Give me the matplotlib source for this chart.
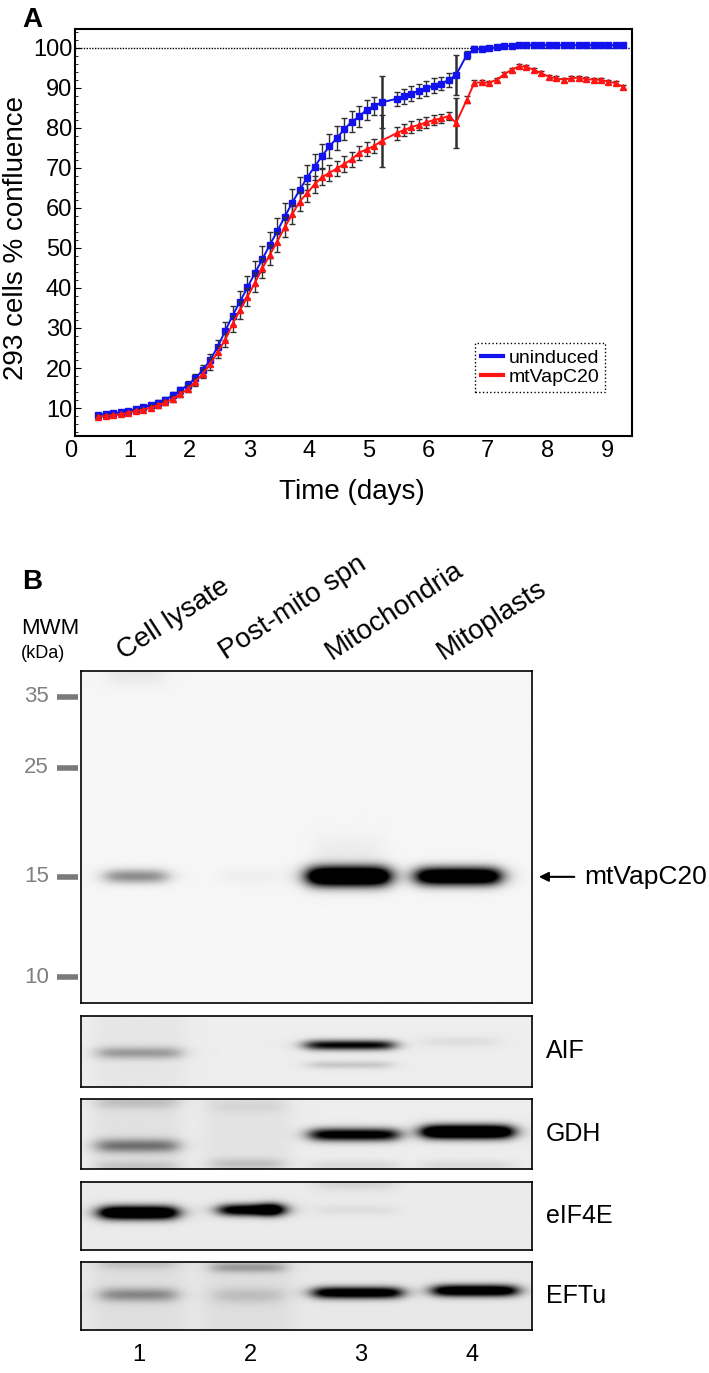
import numpy as np
import matplotlib
matplotlib.use("Agg")
import matplotlib.pyplot as plt
from matplotlib.lines import Line2D
from matplotlib.ticker import MultipleLocator
from matplotlib.transforms import offset_copy

plt.rcParams['font.family'] = ['Liberation Sans', 'DejaVu Sans']

#%% Panel A data - confluence over time
t_days = [0.47, 0.595, 0.72, 0.845, 0.97, 1.095, 1.22, 1.345, 1.47, 1.595,
          1.72, 1.845, 1.97, 2.095, 2.22, 2.345, 2.47, 2.595, 2.72, 2.845,
          2.97, 3.095, 3.22, 3.345, 3.47, 3.595, 3.72, 3.845, 3.97, 4.095,
          4.22, 4.345, 4.47, 4.595, 4.72, 4.845, 4.97, 5.095, 5.22,
          5.47, 5.595, 5.72, 5.845, 5.97, 6.095, 6.22, 6.345, 6.47,
          6.65, 6.775, 6.9, 7.025, 7.15, 7.275, 7.4, 7.525, 7.65, 7.775,
          7.9, 8.025, 8.15, 8.275, 8.4, 8.525, 8.65, 8.775, 8.9, 9.025,
          9.15, 9.275]

uninduced = [8.2, 8.5, 8.7, 8.9, 9.3, 9.7, 10.2, 10.7, 11.3, 12.1,
             13.2, 14.4, 15.8, 17.4, 19.5, 22.0, 25.3, 29.2, 33.1, 36.6,
             40.2, 43.7, 47.2, 50.8, 54.2, 57.8, 61.3, 64.5, 67.6, 70.3,
             73.0, 75.4, 77.5, 79.7, 81.6, 82.9, 84.6, 85.5, 86.4,
             87.3, 87.9, 88.6, 89.3, 89.9, 90.6, 91.1, 92.0, 93.3,
             98.3, 99.7, 99.8, 99.9, 100.2, 100.4, 100.6, 100.7, 100.7, 100.7,
             100.7, 100.7, 100.7, 100.7, 100.7, 100.7, 100.7, 100.7, 100.7, 100.7,
             100.7, 100.7]
uninduced_err = [0.4, 0.4, 0.4, 0.5, 0.5, 0.5, 0.6, 0.6, 0.7, 0.7,
                 0.8, 0.9, 1.0, 1.1, 1.3, 1.5, 1.8, 2.2, 2.4, 2.6,
                 2.8, 3.0, 3.2, 3.3, 3.3, 3.4, 3.4, 3.3, 3.2, 3.2,
                 3.1, 3.0, 2.9, 2.8, 2.7, 2.6, 2.5, 2.3, 6.5,
                 1.8, 1.8, 1.8, 1.8, 1.8, 1.8, 1.7, 1.7, 5.0,
                 1.0, 0.8, 0.6, 0.5, 0.4, 0.3, 0.3, 0.3, 0.3, 0.3,
                 0.3, 0.3, 0.3, 0.3, 0.3, 0.3, 0.3, 0.3, 0.3, 0.3,
                 0.3, 0.3]

mtvapc20 = [7.8, 8.0, 8.2, 8.4, 8.8, 9.2, 9.6, 10.1, 10.7, 11.4,
            12.3, 13.5, 14.8, 16.5, 18.6, 21.0, 24.0, 27.0, 31.0, 34.5,
            37.8, 41.3, 44.9, 48.3, 51.6, 55.2, 58.4, 61.6, 63.7, 65.9,
            67.7, 68.8, 69.9, 71.0, 72.2, 73.8, 74.7, 75.5, 76.8,
            78.7, 79.5, 80.2, 80.8, 81.4, 82.0, 82.4, 83.0, 81.3,
            87.1, 91.3, 91.4, 91.3, 92.1, 93.4, 94.6, 95.4, 95.3, 94.5,
            93.7, 92.8, 92.4, 92.1, 92.4, 92.6, 92.2, 92.1, 92.0, 91.6,
            91.2, 90.2]
mtvapc20_err = [0.4, 0.4, 0.4, 0.4, 0.5, 0.5, 0.5, 0.6, 0.6, 0.7,
                0.7, 0.8, 0.9, 1.0, 1.2, 1.4, 1.6, 1.8, 2.0, 2.2,
                2.3, 2.4, 2.5, 2.5, 2.5, 2.5, 2.4, 2.3, 2.2, 2.1,
                2.0, 2.0, 1.9, 1.9, 1.9, 1.8, 1.8, 1.8, 6.5,
                1.6, 1.5, 1.5, 1.4, 1.3, 1.2, 1.2, 1.1, 6.2,
                0.9, 0.6, 0.5, 0.5, 0.5, 0.5, 0.5, 0.5, 0.5, 0.5,
                0.5, 0.5, 0.5, 0.5, 0.5, 0.5, 0.5, 0.5, 0.5, 0.5,
                0.5, 0.5]

x_ticks = [1, 2, 3, 4, 5, 6, 7, 8, 9]
y_ticks = [10, 20, 30, 40, 50, 60, 70, 80, 90, 100]

#%% Panel B data - western blots
lanes = [1, 2, 3, 4]
lane_titles = ["Cell lysate", "Post-mito spn", "Mitochondria", "Mitoplasts"]
title_x = [0.86, 1.78, 2.74, 3.74]
mw_kda = ["35", "25", "15", "10"]
mw_pos = [0.078, 0.292, 0.620, 0.922]   # fraction down the gel

# bands: (lane x, position down the strip, darkness, half width, thickness)
vapc20_bands = [(0.97, 0.62, 0.42, 0.27, 0.015), (2.0, 0.62, 0.03, 0.25, 0.018),
                (2.89, 0.62, 1.7, 0.36, 0.021), (3.88, 0.62, 1.5, 0.37, 0.019),
                (0.97, 0.0, 0.07, 0.25, 0.03), (2.89, 0.55, 0.04, 0.3, 0.04)]
aif_bands = [(1.0, 0.52, 0.3, 0.37, 0.06), (2.9, 0.41, 0.95, 0.39, 0.05),
             (2.9, 0.69, 0.15, 0.37, 0.04), (3.9, 0.36, 0.06, 0.33, 0.05),
             (1.0, 0.5, 0.03, 0.4, 1.0)]
gdh_bands = [(0.98, 0.67, 0.45, 0.36, 0.07), (0.98, 0.04, 0.14, 0.36, 0.07),
             (0.98, 0.97, 0.12, 0.36, 0.06), (1.97, 0.93, 0.14, 0.32, 0.06),
             (1.97, 0.1, 0.06, 0.32, 0.07), (2.94, 0.51, 1.1, 0.39, 0.065),
             (3.96, 0.47, 1.6, 0.4, 0.07), (2.94, 0.96, 0.08, 0.39, 0.06),
             (3.96, 0.96, 0.08, 0.4, 0.06), (0.98, 0.5, 0.05, 0.4, 1.0),
             (1.97, 0.5, 0.04, 0.4, 1.0)]
eif4e_bands = [(0.99, 0.46, 1.5, 0.34, 0.07), (2.0, 0.42, 1.2, 0.27, 0.06),
               (2.2, 0.41, 0.6, 0.1, 0.07), (2.95, 0.42, 0.05, 0.35, 0.05),
               (2.95, 0.0, 0.1, 0.35, 0.09)]
eftu_bands = [(0.99, 0.49, 0.35, 0.33, 0.07), (0.99, 0.04, 0.12, 0.33, 0.06),
              (1.98, 0.5, 0.13, 0.3, 0.08), (1.98, 0.09, 0.28, 0.32, 0.055),
              (2.97, 0.46, 1.2, 0.39, 0.06), (4.03, 0.43, 1.3, 0.37, 0.06),
              (0.99, 0.5, 0.04, 0.4, 1.0), (1.98, 0.5, 0.04, 0.4, 1.0)]

strip_names = ["AIF", "GDH", "eIF4E", "EFTu"]
strip_bands = [aif_bands, gdh_bands, eif4e_bands, eftu_bands]
strip_bg = [0.07, 0.07, 0.08, 0.09]

#%% layout helpers (reference pixels -> figure fraction)
W, H = 709, 1373
def fx(px):
    return px / W
def fy(py):
    return 1 - py / H

fig = plt.figure(figsize=(W / 100, H / 100), dpi=100, facecolor="white")

blue = "#1212ee"
red = "#ff1414"

ax = fig.add_axes([fx(75), fy(436), (632 - 75) / W, (436 - 29) / H])
ax.axhline(100, color="black", lw=1, ls=(0, (1, 1)), zorder=1)
eb_u = ax.errorbar(t_days, uninduced, yerr=uninduced_err, color=blue, lw=1.4,
                   marker="s", ms=4.5, ecolor="#303030", elinewidth=1,
                   capsize=2.5, capthick=1, zorder=3)
eb_m = ax.errorbar(t_days, mtvapc20, yerr=mtvapc20_err, color=red, lw=1.4,
                   marker="^", ms=4.5, ecolor="#303030", elinewidth=1,
                   capsize=2.5, capthick=1, zorder=4)
# the two very long bars look heavier in the original
for eb, err in ((eb_u, uninduced_err), (eb_m, mtvapc20_err)):
    eb[2][0].set_linewidth([1.8 if e > 4 else 1.0 for e in err])

ax.set_xlim(0.077, 9.42)
ax.set_ylim(3.0, 104.75)
ax.set_xticks(x_ticks)
ax.set_yticks(y_ticks)
ax.yaxis.set_minor_locator(MultipleLocator(2))
ax.tick_params(axis="x", length=0, pad=3, labelsize=17)
ax.tick_params(axis="y", which="major", direction="in", length=4, pad=2, labelsize=17)
ax.tick_params(axis="y", which="minor", direction="in", length=2)
for sp in ax.spines.values():
    sp.set_linewidth(1.5)
# the "0" sits left of the frame
trans0 = offset_copy(ax.get_xaxis_transform(), fig=fig, y=-3, units="points")
ax.text(0, 0, "0", transform=trans0, ha="center", va="top", fontsize=17, clip_on=False)

handles = [Line2D([], [], color=blue, lw=3), Line2D([], [], color=red, lw=3)]
leg = ax.legend(handles, ["uninduced", "mtVapC20"], loc="lower right",
                bbox_to_anchor=(0.9515, 0.108), borderaxespad=0, fontsize=14,
                handlelength=1.1, handletextpad=0.3, borderpad=0.3,
                labelspacing=0.1, fancybox=False, framealpha=1)
leg.get_frame().set_edgecolor("black")
leg.get_frame().set_linestyle(":")
leg.get_frame().set_linewidth(1)

fig.text(fx(16), fy(238), "293 cells % confluence", rotation=90, ha="center",
         va="center", fontsize=20)
fig.text(fx(352), fy(492), "Time (days)", ha="center", va="center", fontsize=20)
fig.text(fx(32), fy(20), "A", ha="center", va="center", fontsize=20, fontweight="bold")
fig.text(fx(32), fy(582), "B", ha="center", va="center", fontsize=20, fontweight="bold")

#%% blots
x_lo, x_hi = 0.476, 4.54

def blot_image(bands, bg, nx=450, ny=160):
    xs = np.linspace(x_lo, x_hi, nx)
    ys = np.linspace(0, 1, ny)
    X, Y = np.meshgrid(xs, ys)
    dark = np.full(X.shape, bg)
    for x0, y0, a, hw, sig in bands:
        across = 1 / (1 + np.exp((np.abs(X - x0) - hw) / 0.05))
        down = np.exp(-0.5 * ((Y - y0) / sig) ** 2)
        dark = dark + a * across * down
    return np.clip(dark, 0, 1)

def blot_axes(top, bottom):
    b = fig.add_axes([fx(81), fy(bottom), (532 - 81) / W, (bottom - top) / H])
    b.set_xlim(x_lo, x_hi)
    b.set_ylim(1, 0)
    b.set_xticks([])
    b.set_yticks([])
    for sp in b.spines.values():
        sp.set_linewidth(1.2)
    return b

gel = blot_axes(671, 1003)
gel.imshow(blot_image(vapc20_bands, 0.035, ny=400), cmap="gray_r", vmin=0, vmax=1,
           extent=(x_lo, x_hi, 1, 0), aspect="auto", interpolation="bilinear")
ytr = gel.get_yaxis_transform()
for lab, pos in zip(mw_kda, mw_pos):
    gel.plot([-0.053, -0.007], [pos, pos], transform=ytr, color="#7a7a7a",
             lw=4, solid_capstyle="butt", clip_on=False)
    gel.text(-0.071, pos, lab, transform=ytr, ha="right", va="center",
             fontsize=16, color="#808080")
gel.annotate("", xy=(1.009, mw_pos[2]), xytext=(1.10, mw_pos[2]),
             xycoords=ytr, textcoords=ytr,
             arrowprops=dict(arrowstyle="-|>", color="black", lw=1.5, mutation_scale=14))
gel.text(1.115, mw_pos[2], "mtVapC20", transform=ytr, ha="left", va="center", fontsize=19)

xtr = gel.get_xaxis_transform()
for tx, title in zip(title_x, lane_titles):
    gel.text(tx, 1.033, title, transform=xtr, rotation=33,
             rotation_mode="anchor", ha="left", va="baseline", fontsize=20)

fig.text(fx(21), fy(628), "MWM", ha="left", va="center", fontsize=16)
fig.text(fx(21), fy(653), "(kDa)", ha="left", va="center", fontsize=13)

strip_rows = [(1016, 1087), (1099, 1169), (1182, 1250), (1262, 1330)]
for (top, bottom), name, bands, bg in zip(strip_rows, strip_names, strip_bands, strip_bg):
    s = blot_axes(top, bottom)
    s.imshow(blot_image(bands, bg), cmap="gray_r", vmin=0, vmax=1,
             extent=(x_lo, x_hi, 1, 0), aspect="auto", interpolation="bilinear")
    s.text(1.031, 0.5, name, transform=s.transAxes, ha="left", va="center", fontsize=18)

last = s
for lane in lanes:
    last.text(lane, -(1355 - 1330) / 68, str(lane), transform=last.get_xaxis_transform(),
              ha="center", va="center", fontsize=17)

fig.savefig("out.png", dpi=100, facecolor="white")
